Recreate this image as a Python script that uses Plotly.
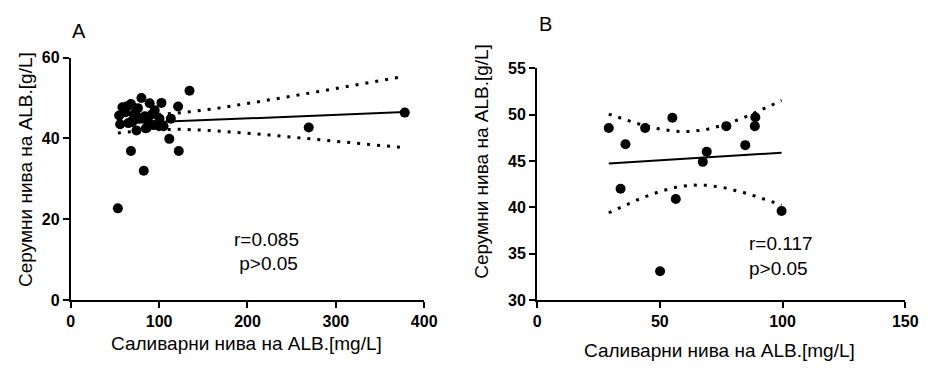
import numpy as np
import plotly.graph_objects as go

# ---------------- data ----------------
# Panel A: salivary ALB (mg/L) vs serum ALB (g/L)
a_x = [134.4, 80.0, 68.1, 58.5, 89.3, 102.6, 121.5, 54.8, 72.6, 83.7, 100.4, 113.3,
       55.9, 65.2, 74.4, 98.5, 87.4, 111.5, 68.1, 122.2, 82.6, 53.3, 269.3, 378.0,
       62.0, 76.0, 92.0, 70.0, 85.0, 95.0, 78.0, 64.0, 105.0, 69.6, 93.0]
a_y = [51.8, 50.0, 48.5, 47.7, 48.7, 48.8, 47.9, 45.7, 46.3, 45.5, 44.9, 44.9,
       43.5, 43.8, 42.0, 43.2, 44.3, 39.9, 36.9, 36.9, 32.0, 22.7, 42.7, 46.4,
       46.5, 47.5, 46.0, 44.5, 42.5, 47.0, 45.0, 48.0, 43.0, 44.1, 43.3]

# Panel B
b_x = [29.2, 44.0, 55.1, 36.0, 34.0, 56.5, 77.1, 88.9, 88.7, 84.8, 69.1, 67.5, 99.6, 50.1]
b_y = [48.55, 48.55, 49.65, 46.8, 42.0, 40.9, 48.75, 49.7, 48.75, 46.7, 46.0, 44.9, 39.6, 33.1]

a_xticks = [0, 100, 200, 300, 400]
a_yticks = [0, 20, 40, 60]
b_xticks = [0, 50, 100, 150]
b_yticks = [30, 35, 40, 45, 50, 55]

y_title = "Серумни нива на ALB.[g/L]"
x_title = "Саливарни нива на ALB.[mg/L]"
a_stats = ["r=0.085", " p>0.05"]
b_stats = ["r=0.117", "p>0.05"]


def t_quantile(df, z=1.959964):
    g1 = (z**3 + z) / 4
    g2 = (5 * z**5 + 16 * z**3 + 3 * z) / 96
    g3 = (3 * z**7 + 19 * z**5 + 17 * z**3 - 15 * z) / 384
    return z + g1 / df + g2 / df**2 + g3 / df**3


def fit_band(xs, ys, npts=60):
    x = np.asarray(xs, float)
    y = np.asarray(ys, float)
    n = len(x)
    b, a = np.polyfit(x, y, 1)
    res = y - (a + b * x)
    s = np.sqrt(np.sum(res**2) / (n - 2))
    sxx = np.sum((x - x.mean())**2)
    xx = np.linspace(x.min(), x.max(), npts)
    yy = a + b * xx
    hw = t_quantile(n - 2) * s * np.sqrt(1 / n + (xx - x.mean())**2 / sxx)
    return xx, yy, yy - hw, yy + hw


FONT = "Liberation Sans, Arial, sans-serif"
W, H = 934, 374

fig = go.Figure()

for (xs, ys, xa, ya) in [(a_x, a_y, "x", "y"), (b_x, b_y, "x2", "y2")]:
    xx, yy, lo, hi = fit_band(xs, ys)
    for band in (lo, hi):
        fig.add_trace(go.Scatter(x=xx, y=band, mode="lines", xaxis=xa, yaxis=ya,
                                 line=dict(color="black", width=3, dash="3px,7px"),
                                 hoverinfo="skip", showlegend=False))
    fig.add_trace(go.Scatter(x=xx, y=yy, mode="lines", xaxis=xa, yaxis=ya,
                             line=dict(color="black", width=2),
                             hoverinfo="skip", showlegend=False))
    fig.add_trace(go.Scatter(x=xs, y=ys, mode="markers", xaxis=xa, yaxis=ya,
                             marker=dict(color="black", size=10),
                             cliponaxis=False, showlegend=False))

axis_common = dict(showline=True, linecolor="black", linewidth=2, ticks="outside",
                   ticklen=6, tickwidth=2, tickcolor="black", showgrid=False,
                   zeroline=False,
                   tickfont=dict(family=FONT, size=16, color="black", weight="bold"))


def px(v):
    return v / W


def py(v):
    return 1 - v / H


fig.update_layout(
    width=W, height=H, margin=dict(l=0, r=0, t=0, b=0),
    paper_bgcolor="white", plot_bgcolor="white",
    font=dict(family=FONT, color="black"),
    xaxis=dict(domain=[px(68), px(428)], range=[0, 400], tickvals=a_xticks,
               anchor="y", **axis_common),
    yaxis=dict(domain=[py(306), py(52)], range=[0, 60], tickvals=a_yticks,
               anchor="x", **axis_common),
    xaxis2=dict(domain=[px(543), px(918)], range=[0, 150], tickvals=b_xticks,
                anchor="y2", **axis_common),
    yaxis2=dict(domain=[py(306), py(63)], range=[30, 55], tickvals=b_yticks,
                anchor="x2", **axis_common),
)

ann = []
TS = 19
ann.append(dict(x=px(76), y=py(24), text="A", font=dict(size=20)))
ann.append(dict(x=px(552), y=py(17), text="B", font=dict(size=20)))
ann.append(dict(x=px(247), y=py(351), text=x_title, font=dict(size=TS)))
ann.append(dict(x=px(729), y=py(359), text=x_title, font=dict(size=TS)))
ann.append(dict(x=px(22), y=py(169), text=y_title, textangle=-90, font=dict(size=TS)))
ann.append(dict(x=px(487), y=py(161), text=y_title, textangle=-90, font=dict(size=TS)))
ann.append(dict(x=px(232), y=py(243), text=a_stats[0], xanchor="left", font=dict(size=19)))
ann.append(dict(x=px(232), y=py(268), text=a_stats[1], xanchor="left", font=dict(size=19)))
ann.append(dict(x=px(757), y=py(247), text=b_stats[0], xanchor="left", font=dict(size=19)))
ann.append(dict(x=px(757), y=py(273), text=b_stats[1], xanchor="left", font=dict(size=19)))
for a in ann:
    a.setdefault("xanchor", "center")
    a.update(xref="paper", yref="paper", yanchor="middle", showarrow=False)
    a["font"] = dict(family=FONT, color="black", size=a["font"]["size"])
fig.update_layout(annotations=ann)

fig.write_html("out.html")
